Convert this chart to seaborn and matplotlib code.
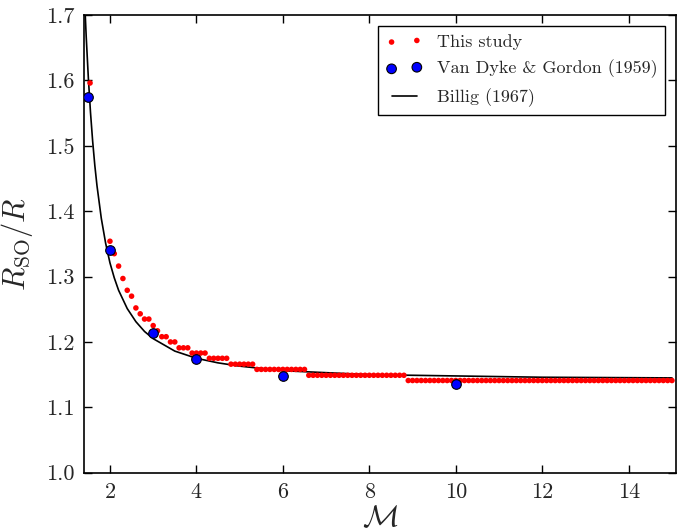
import matplotlib
matplotlib.use("Agg")
import matplotlib.pyplot as plt
import seaborn as sns
import pandas as pd

# ---- data ----
study_M = [1.54,
           2.0, 2.1, 2.2, 2.3, 2.4, 2.5, 2.6, 2.7, 2.8, 2.9,
           3.0, 3.1, 3.2, 3.3, 3.4, 3.5, 3.6, 3.7, 3.8, 3.9,
           4.0, 4.1, 4.2, 4.3, 4.4, 4.5, 4.6, 4.7, 4.8, 4.9,
           5.0, 5.1, 5.2, 5.3, 5.4, 5.5, 5.6, 5.7, 5.8, 5.9,
           6.0, 6.1, 6.2, 6.3, 6.4, 6.5, 6.6, 6.7, 6.8, 6.9,
           7.0, 7.1, 7.2, 7.3, 7.4, 7.5, 7.6, 7.7, 7.8, 7.9,
           8.0, 8.1, 8.2, 8.3, 8.4, 8.5, 8.6, 8.7, 8.8, 8.9,
           9.0, 9.1, 9.2, 9.3, 9.4, 9.5, 9.6, 9.7, 9.8, 9.9,
           10.0, 10.1, 10.2, 10.3, 10.4, 10.5, 10.6, 10.7, 10.8, 10.9,
           11.0, 11.1, 11.2, 11.3, 11.4, 11.5, 11.6, 11.7, 11.8, 11.9,
           12.0, 12.1, 12.2, 12.3, 12.4, 12.5, 12.6, 12.7, 12.8, 12.9,
           13.0, 13.1, 13.2, 13.3, 13.4, 13.5, 13.6, 13.7, 13.8, 13.9,
           14.0, 14.1, 14.2, 14.3, 14.4, 14.5, 14.6, 14.7, 14.8, 14.9,
           15.0]
study_R = [1.596,
           1.354, 1.335, 1.316, 1.297, 1.279, 1.270, 1.252, 1.243, 1.235, 1.235,
           1.225, 1.217, 1.208, 1.208, 1.200, 1.200, 1.191, 1.191, 1.191, 1.183,
           1.183, 1.183, 1.183, 1.175, 1.175, 1.175, 1.175, 1.175, 1.166, 1.166,
           1.166, 1.166, 1.166, 1.166, 1.158, 1.158, 1.158, 1.158, 1.158, 1.158,
           1.158, 1.158, 1.158, 1.158, 1.158, 1.158, 1.149, 1.149, 1.149, 1.149,
           1.149, 1.149, 1.149, 1.149, 1.149, 1.149, 1.149, 1.149, 1.149, 1.149,
           1.149, 1.149, 1.149, 1.149, 1.149, 1.149, 1.149, 1.149, 1.149, 1.141,
           1.141, 1.141, 1.141, 1.141, 1.141, 1.141, 1.141, 1.141, 1.141, 1.141,
           1.141, 1.141, 1.141, 1.141, 1.141, 1.141, 1.141, 1.141, 1.141, 1.141,
           1.141, 1.141, 1.141, 1.141, 1.141, 1.141, 1.141, 1.141, 1.141, 1.141,
           1.141, 1.141, 1.141, 1.141, 1.141, 1.141, 1.141, 1.141, 1.141, 1.141,
           1.141, 1.141, 1.141, 1.141, 1.141, 1.141, 1.141, 1.141, 1.141, 1.141,
           1.141, 1.141, 1.141, 1.141, 1.141, 1.141, 1.141, 1.141, 1.141, 1.141,
           1.141]

vdg_M = [1.5, 2.0, 3.0, 4.0, 6.0, 10.0]
vdg_R = [1.575, 1.340, 1.213, 1.174, 1.148, 1.135]

billig_M = [1.40, 1.42, 1.45, 1.50, 1.55, 1.60, 1.65, 1.70, 1.80, 1.90, 2.00,
            2.10, 2.20, 2.40, 2.60, 2.80, 3.00, 3.50, 4.00, 4.50, 5.00, 6.00,
            7.00, 8.00, 10.0, 12.0, 15.0]
billig_R = [1.747, 1.713, 1.668, 1.604, 1.551, 1.507, 1.470, 1.439, 1.389, 1.351, 1.321,
            1.298, 1.279, 1.251, 1.231, 1.216, 1.205, 1.186, 1.175, 1.168, 1.163, 1.156,
            1.153, 1.150, 1.148, 1.146, 1.145]

x_ticks = [2, 4, 6, 8, 10, 12, 14]
y_ticks = [1.0, 1.1, 1.2, 1.3, 1.4, 1.5, 1.6, 1.7]

labels = ["This study", "Van Dyke & Gordon (1959)", "Billig (1967)"]

# ---- style ----
sns.set_style("ticks")
plt.rcParams["font.family"] = ["cmr10", "DejaVu Serif"]
plt.rcParams["mathtext.fontset"] = "cm"
plt.rcParams["axes.formatter.use_mathtext"] = True
plt.rcParams["axes.unicode_minus"] = False

fig = plt.figure(figsize=(6.92, 5.28), dpi=100)
ax = fig.add_axes([0.1214, 0.1047, 0.8559, 0.8669])

df_s = pd.DataFrame({"M": study_M, "R": study_R})
df_v = pd.DataFrame({"M": vdg_M, "R": vdg_R})
df_b = pd.DataFrame({"M": billig_M, "R": billig_R})

sns.scatterplot(data=df_s, x="M", y="R", ax=ax, color="red", s=16,
                edgecolor="none", label=labels[0], zorder=3)
sns.scatterplot(data=df_v, x="M", y="R", ax=ax, color="blue", s=48,
                edgecolor="black", linewidth=0.8, label=labels[1], zorder=4)
sns.lineplot(data=df_b, x="M", y="R", ax=ax, color="black", linewidth=1.2,
             label=labels[2], zorder=2, sort=False)

ax.set_xlim(1.4, 15.1)
ax.set_ylim(1.0, 1.7)
ax.set_xticks(x_ticks)
ax.set_yticks(y_ticks)
ax.set_yticklabels([f"{v:.1f}" for v in y_ticks])
ax.set_xticklabels([str(v) for v in x_ticks])

ax.tick_params(direction="in", which="both", top=True, right=True,
               length=6, width=1, labelsize=16, pad=7, color="black")
for sp in ax.spines.values():
    sp.set_linewidth(1.2)
    sp.set_color("black")
    sp.set_visible(True)

ax.set_xlabel(r"$\mathcal{M}$", fontsize=22, labelpad=2)
ax.set_ylabel(r"$R_{\rm SO}/R$", fontsize=22, labelpad=8)

leg = ax.legend(loc="upper right", fontsize=13, scatterpoints=2, numpoints=2,
                frameon=True, fancybox=False, framealpha=1, edgecolor="black",
                handlelength=2.0, borderpad=0.45, labelspacing=0.55,
                borderaxespad=0.6)
leg.get_frame().set_linewidth(1.0)

fig.savefig("out.png", dpi=100)
